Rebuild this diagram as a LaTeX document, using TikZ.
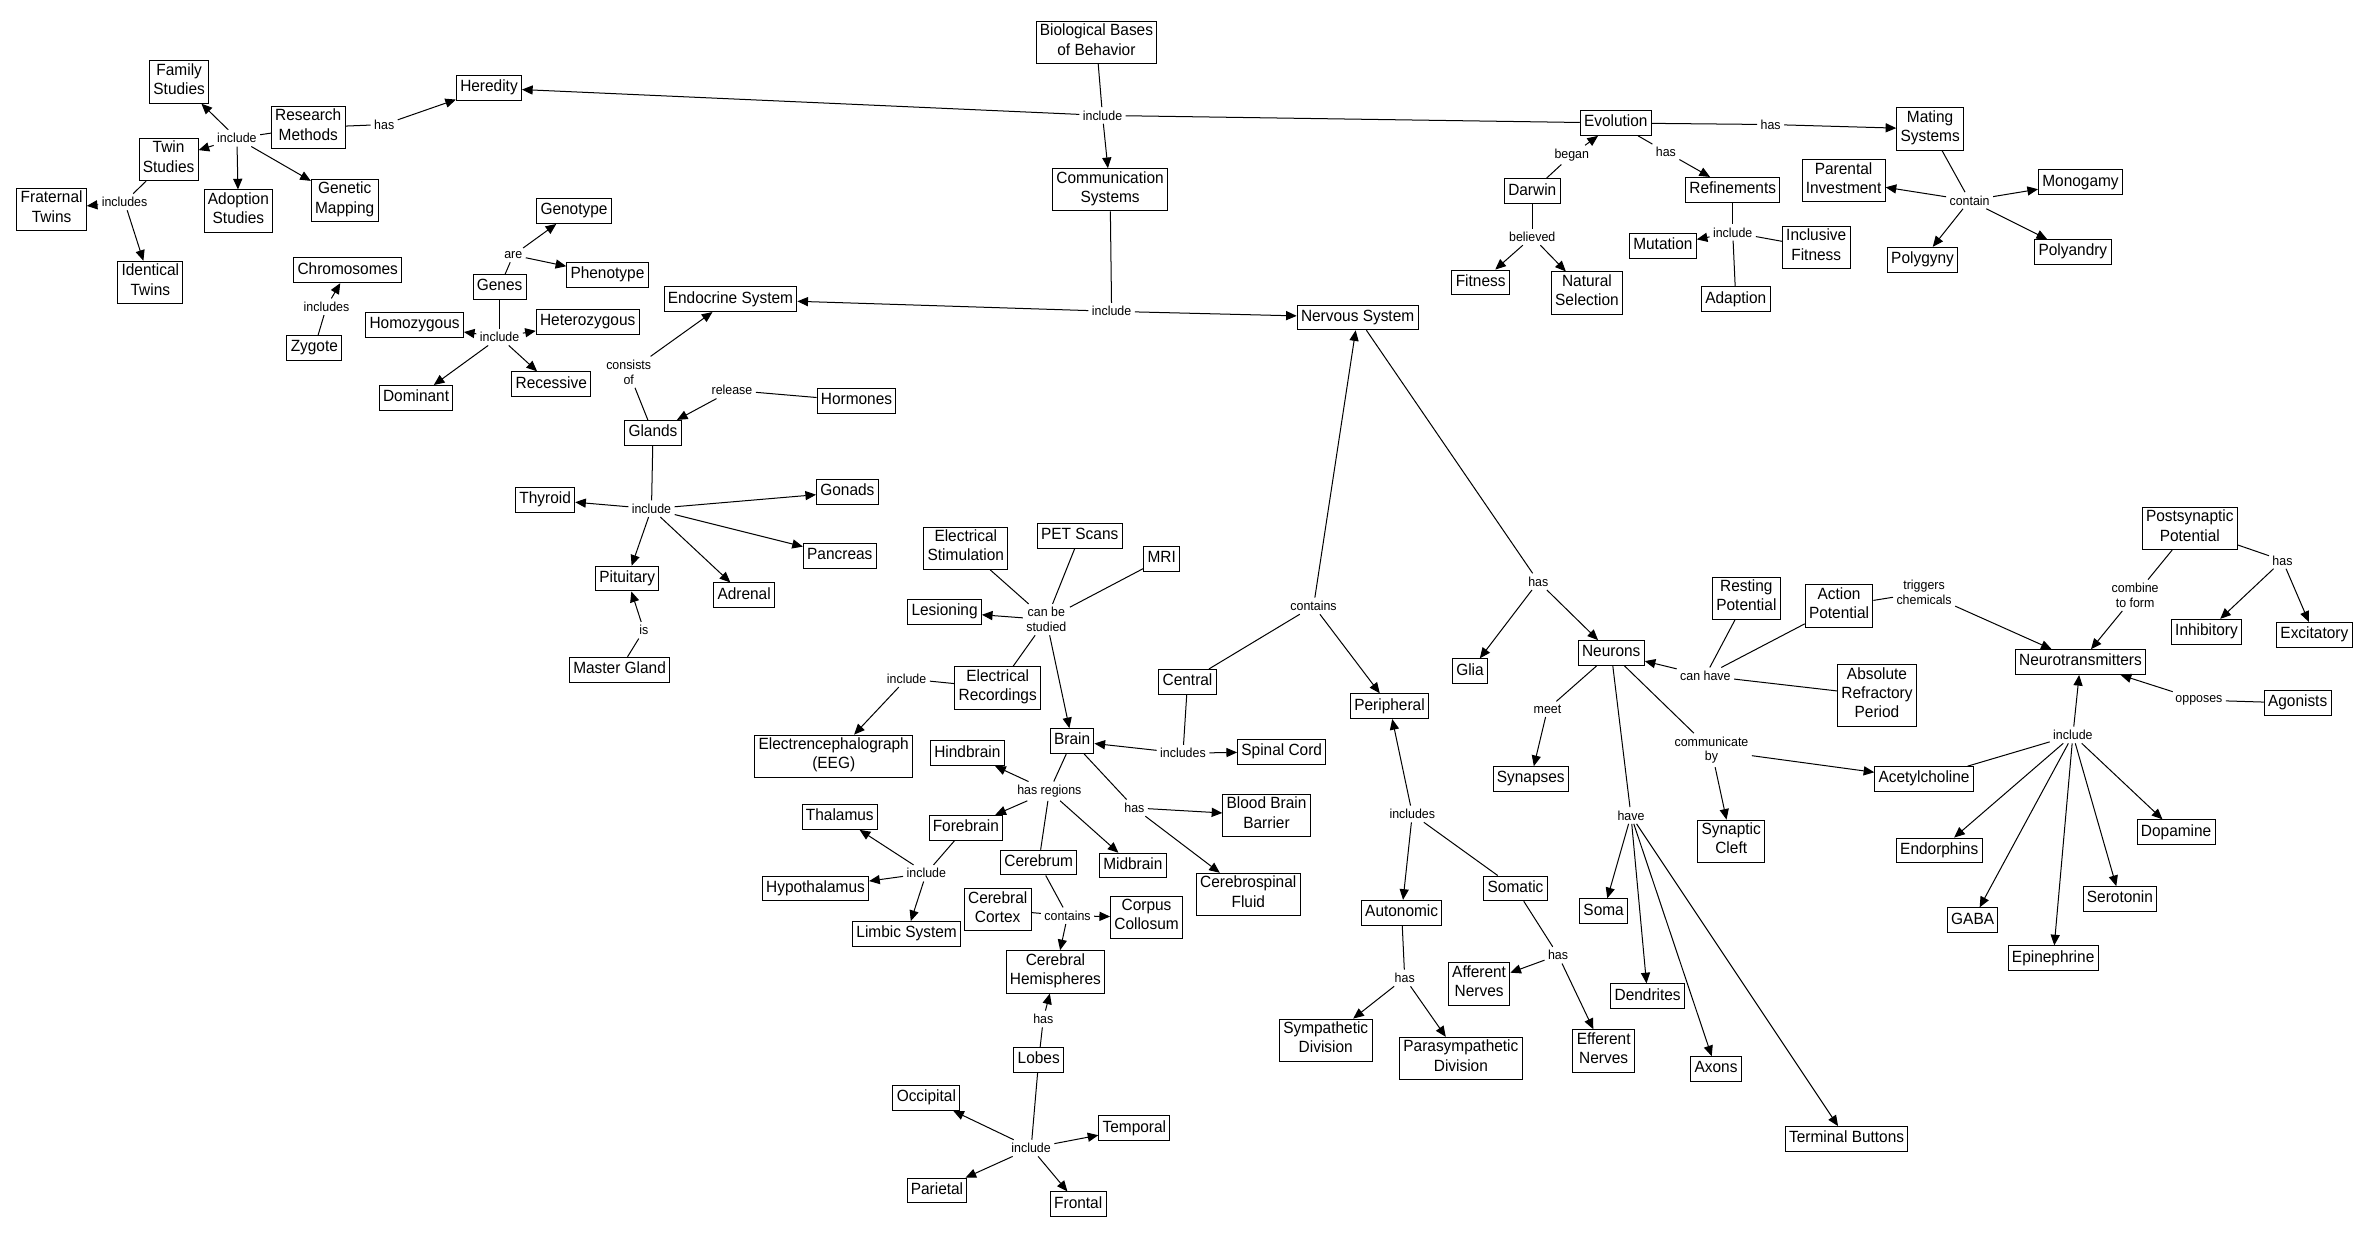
\documentclass[tikz,border=0pt]{standalone}
\usepackage{fontspec}
\setmainfont{Liberation Sans}[FakeStretch=0.95]
\usetikzlibrary{arrows.meta}
\newcommand\conceptfont{\fontsize{10.7}{12.7}\selectfont}
\newcommand\linkfont{\fontsize{8.6}{9.7}\selectfont}
\begin{document}
\begin{tikzpicture}[->,>={Triangle[length=7pt,width=6pt]},x=1pt,y=-1pt,line width=0.66pt,
  concept/.style={draw,rectangle,line width=0.66pt,inner xsep=2.5pt,inner ysep=1.8pt,align=center,font=\conceptfont,execute at begin node=\strut,execute at end node=\strut},
  link/.style={inner sep=2pt,align=center,font=\linkfont}]

            \useasboundingbox (0,0) rectangle (1560,814.6);

            \node[concept] (bio) at (722,28) {Biological Bases\\of Behavior};
            \node[concept] (comm) at (731,125) {Communication\\Systems};
            \node[concept] (heredity) at (322,58) {Heredity};
            \node[concept] (evolution) at (1064,81) {Evolution};
            \node[concept] (research) at (203,84) {Research\\Methods};
            \node[concept] (family) at (118,54) {Family\\Studies};
            \node[concept] (twin) at (111,105) {Twin\\Studies};
            \node[concept] (adoption) at (157,139) {Adoption\\Studies};
            \node[concept] (genmap) at (227,132) {Genetic\\Mapping};
            \node[concept] (fraternal) at (34,138) {Fraternal\\Twins};
            \node[concept] (identical) at (99,186) {Identical\\Twins};
            \node[concept] (chromo) at (229,178) {Chromosomes};
            \node[concept] (zygote) at (207,229) {Zygote};
            \node[concept] (genes) at (329,189) {Genes};
            \node[concept] (genotype) at (378,139) {Genotype};
            \node[concept] (phenotype) at (400,181) {Phenotype};
            \node[concept] (homo) at (273,214) {Homozygous};
            \node[concept] (hetero) at (387,212) {Heterozygous};
            \node[concept] (dominant) at (274,262) {Dominant};
            \node[concept] (recessive) at (363,253) {Recessive};
            \node[concept] (endo) at (481,197) {Endocrine System};
            \node[concept] (nervous) at (894,209) {Nervous System};
            \node[concept] (glands) at (430,285) {Glands};
            \node[concept] (hormones) at (564,264) {Hormones};
            \node[concept] (thyroid) at (359,329) {Thyroid};
            \node[concept] (gonads) at (558,324) {Gonads};
            \node[concept] (pancreas) at (553,366) {Pancreas};
            \node[concept] (pituitary) at (413,381) {Pituitary};
            \node[concept] (adrenal) at (490,392) {Adrenal};
            \node[concept] (master) at (408,441) {Master Gland};
            \node[concept] (estim) at (636,361) {Electrical\\Stimulation};
            \node[concept] (pet) at (711,353) {PET Scans};
            \node[concept] (mri) at (765,368) {MRI};
            \node[concept] (lesion) at (622,403) {Lesioning};
            \node[concept] (erec) at (657,453) {Electrical\\Recordings};
            \node[concept] (eeg) at (549,498) {Electrencephalograph\\(EEG)};
            \node[concept] (brain) at (706,488) {Brain};
            \node[concept] (hind) at (637,496) {Hindbrain};
            \node[concept] (bbb) at (834,537) {Blood Brain\\Barrier};
            \node[concept] (csf) at (822,589) {Cerebrospinal\\Fluid};
            \node[concept] (spinal) at (844,495) {Spinal Cord};
            \node[concept] (central) at (782,449) {Central};
            \node[concept] (peripheral) at (915,465) {Peripheral};
            \node[concept] (autonomic) at (923,601) {Autonomic};
            \node[concept] (somatic) at (998,585) {Somatic};
            \node[concept] (sympa) at (873,685) {Sympathetic\\Division};
            \node[concept] (parasympa) at (962,697) {Parasympathetic\\Division};
            \node[concept] (afferent) at (974,648) {Afferent\\Nerves};
            \node[concept] (efferent) at (1056,692) {Efferent\\Nerves};
            \node[concept] (fore) at (636,545) {Forebrain};
            \node[concept] (thalamus) at (553,538) {Thalamus};
            \node[concept] (hypo) at (537,585) {Hypothalamus};
            \node[concept] (limbic) at (597,615) {Limbic System};
            \node[concept] (cerebrum) at (684,568) {Cerebrum};
            \node[concept] (mid) at (746,570) {Midbrain};
            \node[concept] (cortex) at (657,599) {Cerebral\\Cortex};
            \node[concept] (corpus) at (755,604) {Corpus\\Collosum};
            \node[concept] (hemi) at (695,640) {Cerebral\\Hemispheres};
            \node[concept] (lobes) at (684,698) {Lobes};
            \node[concept] (occipital) at (610,723) {Occipital};
            \node[concept] (temporal) at (747,743) {Temporal};
            \node[concept] (parietal) at (617,784) {Parietal};
            \node[concept] (frontal) at (710,793) {Frontal};
            \node[concept] (darwin) at (1009,126) {Darwin};
            \node[concept] (fitness) at (975,186) {Fitness};
            \node[concept] (natsel) at (1045,193) {Natural\\Selection};
            \node[concept] (refine) at (1141,125) {Refinements};
            \node[concept] (mutation) at (1095,162) {Mutation};
            \node[concept] (inclfit) at (1196,163) {Inclusive\\Fitness};
            \node[concept] (adaption) at (1143,197) {Adaption};
            \node[concept] (mating) at (1271,85) {Mating\\Systems};
            \node[concept] (parental) at (1214,119) {Parental\\Investment};
            \node[concept] (monogamy) at (1370,120) {Monogamy};
            \node[concept] (polygyny) at (1266,171) {Polygyny};
            \node[concept] (polyandry) at (1365,166) {Polyandry};
            \node[concept] (glia) at (968,442) {Glia};
            \node[concept] (neurons) at (1061,430) {Neurons};
            \node[concept] (resting) at (1150,394) {Resting\\Potential};
            \node[concept] (action) at (1211,399) {Action\\Potential};
            \node[concept] (refract) at (1236,458) {Absolute\\Refractory\\Period};
            \node[concept] (synapses) at (1008,513) {Synapses};
            \node[concept] (cleft) at (1140,554) {Synaptic\\Cleft};
            \node[concept] (acetyl) at (1267,513) {Acetylcholine};
            \node[concept] (soma) at (1056,600) {Soma};
            \node[concept] (dendrites) at (1085,656) {Dendrites};
            \node[concept] (axons) at (1130,704) {Axons};
            \node[concept] (terminal) at (1216,750) {Terminal Buttons};
            \node[concept] (neurotr) at (1370,436) {Neurotransmitters};
            \node[concept] (postsyn) at (1442,348) {Postsynaptic\\Potential};
            \node[concept] (inhib) at (1453,416) {Inhibitory};
            \node[concept] (excit) at (1524,418) {Excitatory};
            \node[concept] (agonists) at (1513,463) {Agonists};
            \node[concept] (endorph) at (1277,560) {Endorphins};
            \node[concept] (gaba) at (1299,606) {GABA};
            \node[concept] (epineph) at (1352,631) {Epinephrine};
            \node[concept] (serotonin) at (1396,592) {Serotonin};
            \node[concept] (dopamine) at (1433,548) {Dopamine};

            \node[link] (Lbio) at (726,76) {include};
            \node[link] (LresHas) at (253,82) {has};
            \node[link] (LresInc) at (156,91) {include};
            \node[link] (LtwinInc) at (82,133) {includes};
            \node[link] (Lzyg) at (215,202) {includes};
            \node[link] (Lare) at (338,168) {are};
            \node[link] (LgenInc) at (329,222) {include};
            \node[link] (LcomInc) at (732,205) {include};
            \node[link] (Lcons) at (414,245) {consists\\of};
            \node[link] (Lrel) at (482,257) {release};
            \node[link] (LglInc) at (429,335) {include};
            \node[link] (Lis) at (424,415) {is};
            \node[link] (Lstudy) at (689,408) {can be\\studied};
            \node[link] (LerInc) at (597,447) {include};
            \node[link] (LcenInc) at (779,496) {includes};
            \node[link] (Lregions) at (691,521) {has regions};
            \node[link] (LbrHas) at (747,532) {has};
            \node[link] (Lcontains) at (865,399) {contains};
            \node[link] (LperInc) at (930,536) {includes};
            \node[link] (LautHas) at (925,644) {has};
            \node[link] (LsomHas) at (1026,629) {has};
            \node[link] (LforeInc) at (610,575) {include};
            \node[link] (LcerCont) at (703,603) {contains};
            \node[link] (LlobHas) at (687,671) {has};
            \node[link] (LlobInc) at (679,756) {include};
            \node[link] (Lbegan) at (1035,102) {began};
            \node[link] (Lbelieved) at (1009,156) {believed};
            \node[link] (LevoHas) at (1097,100) {has};
            \node[link] (LrefInc) at (1141,153) {include};
            \node[link] (LevoHasB) at (1166,82) {has};
            \node[link] (Lcontain) at (1297,132) {contain};
            \node[link] (LnsHas) at (1013,383) {has};
            \node[link] (Lcanhave) at (1123,445) {can have};
            \node[link] (Lmeet) at (1019,467) {meet};
            \node[link] (Lcomby) at (1127,494) {communicate\\by};
            \node[link] (Lhave) at (1074,537) {have};
            \node[link] (Ltrig) at (1267,390) {triggers\\chemicals};
            \node[link] (Lcombine) at (1406,392) {combine\\to form};
            \node[link] (LpsHas) at (1503,369) {has};
            \node[link] (Lopposes) at (1448,461) {opposes};
            \node[link] (LntInc) at (1365,484) {include};

            \draw[-] (bio) to (Lbio);
            \draw[->] (Lbio) to (heredity);
            \draw[-] (Lbio) to (evolution);
            \draw[->] (Lbio) to (comm);
            \draw[-] (research) to (LresHas);
            \draw[->] (LresHas) to (heredity);
            \draw[-] (research) to (LresInc);
            \draw[->] (LresInc) to (family);
            \draw[->] (LresInc) to (twin);
            \draw[->] (LresInc) to (adoption);
            \draw[->] (LresInc) to (genmap);
            \draw[-] (twin) to (LtwinInc);
            \draw[->] (LtwinInc) to (fraternal);
            \draw[->] (LtwinInc) to (identical);
            \draw[-] (zygote) to (Lzyg);
            \draw[->] (Lzyg) to (chromo);
            \draw[-] (genes) to (Lare);
            \draw[->] (Lare) to (genotype);
            \draw[->] (Lare) to (phenotype);
            \draw[-] (genes) to (LgenInc);
            \draw[->] (LgenInc) to (homo);
            \draw[->] (LgenInc) to (hetero);
            \draw[->] (LgenInc) to (dominant);
            \draw[->] (LgenInc) to (recessive);
            \draw[-] (comm) to (LcomInc);
            \draw[->] (LcomInc) to (endo);
            \draw[->] (LcomInc) to (nervous);
            \draw[-] (glands) to (Lcons);
            \draw[->] (Lcons) to (endo);
            \draw[-] (hormones) to (Lrel);
            \draw[->] (Lrel) to (glands);
            \draw[-] (glands) to (LglInc);
            \draw[->] (LglInc) to (thyroid);
            \draw[->] (LglInc) to (gonads);
            \draw[->] (LglInc) to (pancreas);
            \draw[->] (LglInc) to (pituitary);
            \draw[->] (LglInc) to (adrenal);
            \draw[-] (master) to (Lis);
            \draw[->] (Lis) to (pituitary);
            \draw[-] (estim) to (Lstudy);
            \draw[-] (pet) to (Lstudy);
            \draw[-] (mri) to (Lstudy);
            \draw[-] (erec) to (Lstudy);
            \draw[->] (Lstudy) to (lesion);
            \draw[->] (Lstudy) to (brain);
            \draw[-] (erec) to (LerInc);
            \draw[->] (LerInc) to (eeg);
            \draw[-] (central) to (LcenInc);
            \draw[->] (LcenInc) to (brain);
            \draw[->] (LcenInc) to (spinal);
            \draw[-] (brain) to (Lregions);
            \draw[->] (Lregions) to (hind);
            \draw[->] (Lregions) to (fore);
            \draw[->] (Lregions) to (mid);
            \draw[-] (Lregions) to (cerebrum);
            \draw[-] (brain) to (LbrHas);
            \draw[->] (LbrHas) to (bbb);
            \draw[->] (LbrHas) to (csf);
            \draw[-] (central) to (Lcontains);
            \draw[->] (Lcontains) to (nervous);
            \draw[->] (Lcontains) to (peripheral);
            \draw[-] (somatic) to (LperInc);
            \draw[->] (LperInc) to (peripheral);
            \draw[->] (LperInc) to (autonomic);
            \draw[-] (autonomic) to (LautHas);
            \draw[->] (LautHas) to (sympa);
            \draw[->] (LautHas) to (parasympa);
            \draw[-] (somatic) to (LsomHas);
            \draw[->] (LsomHas) to (afferent);
            \draw[->] (LsomHas) to (efferent);
            \draw[-] (fore) to (LforeInc);
            \draw[->] (LforeInc) to (thalamus);
            \draw[->] (LforeInc) to (hypo);
            \draw[->] (LforeInc) to (limbic);
            \draw[-] (cerebrum) to (LcerCont);
            \draw[-] (cortex) to (LcerCont);
            \draw[->] (LcerCont) to (hemi);
            \draw[->] (LcerCont) to (corpus);
            \draw[-] (lobes) to (LlobHas);
            \draw[->] (LlobHas) to (hemi);
            \draw[-] (lobes) to (LlobInc);
            \draw[->] (LlobInc) to (occipital);
            \draw[->] (LlobInc) to (temporal);
            \draw[->] (LlobInc) to (parietal);
            \draw[->] (LlobInc) to (frontal);
            \draw[-] (darwin) to (Lbegan);
            \draw[->] (Lbegan) to (evolution);
            \draw[-] (darwin) to (Lbelieved);
            \draw[->] (Lbelieved) to (fitness);
            \draw[->] (Lbelieved) to (natsel);
            \draw[-] (evolution) to (LevoHas);
            \draw[->] (LevoHas) to (refine);
            \draw[-] (refine) to (LrefInc);
            \draw[->] (LrefInc) to (mutation);
            \draw[-] (inclfit) to (LrefInc);
            \draw[-] (adaption) to (LrefInc);
            \draw[-] (evolution) to (LevoHasB);
            \draw[->] (LevoHasB) to (mating);
            \draw[-] (mating) to (Lcontain);
            \draw[->] (Lcontain) to (parental);
            \draw[->] (Lcontain) to (monogamy);
            \draw[->] (Lcontain) to (polygyny);
            \draw[->] (Lcontain) to (polyandry);
            \draw[-] (nervous) to (LnsHas);
            \draw[->] (LnsHas) to (glia);
            \draw[->] (LnsHas) to (neurons);
            \draw[-] (resting) to (Lcanhave);
            \draw[-] (action) to (Lcanhave);
            \draw[-] (refract) to (Lcanhave);
            \draw[->] (Lcanhave) to (neurons);
            \draw[-] (neurons) to (Lmeet);
            \draw[->] (Lmeet) to (synapses);
            \draw[-] (neurons) to (Lcomby);
            \draw[->] (Lcomby) to (cleft);
            \draw[->] (Lcomby) to (acetyl);
            \draw[-] (neurons) to (Lhave);
            \draw[->] (Lhave) to (soma);
            \draw[->] (Lhave) to (dendrites);
            \draw[->] (Lhave) to (axons);
            \draw[->] (Lhave) to (terminal);
            \draw[-] (action) to (Ltrig);
            \draw[->] (Ltrig) to (neurotr);
            \draw[-] (postsyn) to (Lcombine);
            \draw[->] (Lcombine) to (neurotr);
            \draw[-] (postsyn) to (LpsHas);
            \draw[->] (LpsHas) to (inhib);
            \draw[->] (LpsHas) to (excit);
            \draw[-] (agonists) to (Lopposes);
            \draw[->] (Lopposes) to (neurotr);
            \draw[->] (LntInc) to (neurotr);
            \draw[-] (acetyl) to (LntInc);
            \draw[->] (LntInc) to (endorph);
            \draw[->] (LntInc) to (gaba);
            \draw[->] (LntInc) to (epineph);
            \draw[->] (LntInc) to (serotonin);
            \draw[->] (LntInc) to (dopamine);

            ;
        \end{tikzpicture}
\end{document}
